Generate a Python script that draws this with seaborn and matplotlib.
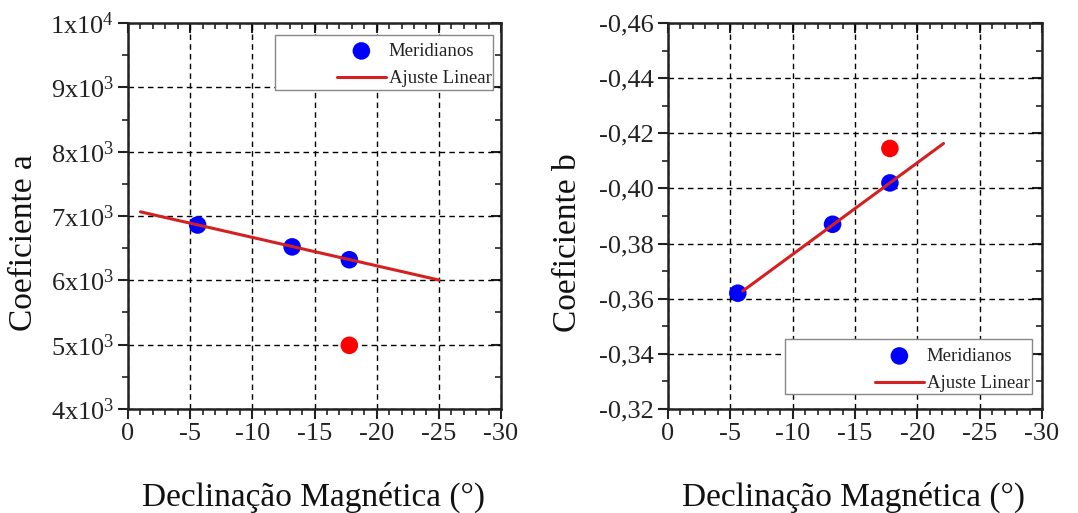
import numpy as np
import pandas as pd
import matplotlib
matplotlib.use("Agg")
import matplotlib.pyplot as plt
from matplotlib.ticker import MultipleLocator, FixedLocator
from matplotlib.patches import Rectangle
import seaborn as sns

# ---- data ----
decl = [-5.6, -13.2, -17.8]            # Declinação magnética (°)
coef_a = [6860, 6520, 6320]            # Coeficiente a (Meridianos)
coef_b = [-0.362, -0.387, -0.402]      # Coeficiente b (Meridianos)
outlier_x = [-17.8]
outlier_a = [4990]
outlier_b = [-0.4145]
fit_a_x = [-1.0, -25.0]
fit_a_y = [7065, 6005]
fit_b_x = [-6.0, -22.1]
fit_b_y = [-0.3628, -0.4163]

x_ticks = [0, -5, -10, -15, -20, -25, -30]
a_ticks = [4000, 5000, 6000, 7000, 8000, 9000, 10000]
a_labels = [r"$\mathregular{4x10^3}$", r"$\mathregular{5x10^3}$", r"$\mathregular{6x10^3}$",
            r"$\mathregular{7x10^3}$", r"$\mathregular{8x10^3}$", r"$\mathregular{9x10^3}$",
            r"$\mathregular{1x10^4}$"]
b_ticks = [-0.32, -0.34, -0.36, -0.38, -0.40, -0.42, -0.44, -0.46]
b_labels = ["-0,32", "-0,34", "-0,36", "-0,38", "-0,40", "-0,42", "-0,44", "-0,46"]

sns.set_theme(style="white")
plt.rcParams["font.family"] = ["Liberation Serif", "DejaVu Serif"]
plt.rcParams["mathtext.fontset"] = "custom"
plt.rcParams["mathtext.rm"] = "Liberation Serif"
plt.rcParams["axes.unicode_minus"] = False

W, H = 1078, 513
fig = plt.figure(figsize=(W / 100, H / 100), dpi=100)
axL = fig.add_axes([128 / W, (H - 409) / H, 373 / W, 386 / H])
axR = fig.add_axes([668 / W, (H - 409) / H, 374 / W, 386 / H])

main_df_a = pd.DataFrame({"x": decl, "y": coef_a})
main_df_b = pd.DataFrame({"x": decl, "y": coef_b})
out_df_a = pd.DataFrame({"x": outlier_x, "y": outlier_a})
out_df_b = pd.DataFrame({"x": outlier_x, "y": outlier_b})
fit_df_a = pd.DataFrame({"x": fit_a_x, "y": fit_a_y})
fit_df_b = pd.DataFrame({"x": fit_b_x, "y": fit_b_y})

line_color = "#d42020"
ink = "#222222"

for ax, mdf, odf, fdf in [(axL, main_df_a, out_df_a, fit_df_a),
                          (axR, main_df_b, out_df_b, fit_df_b)]:
    sns.scatterplot(data=mdf, x="x", y="y", ax=ax, color="#0000ff", s=160,
                    edgecolor="none", label="Meridianos", zorder=3)
    sns.scatterplot(data=odf, x="x", y="y", ax=ax, color="#ff0000", s=160,
                    edgecolor="none", zorder=3, legend=False)
    sns.lineplot(data=fdf, x="x", y="y", ax=ax, color=line_color, lw=2.2,
                 label="Ajuste Linear", zorder=4)
    ax.set_xlim(0, -30)
    ax.xaxis.set_major_locator(FixedLocator(x_ticks))
    ax.xaxis.set_minor_locator(MultipleLocator(1))
    ax.set_xticklabels([str(t) for t in x_ticks])
    ax.grid(True, which="major", color="black", linestyle=(0, (4, 3)), linewidth=1.0)
    for sp in ax.spines.values():
        sp.set_linewidth(1.8)
        sp.set_color(ink)
    ax.tick_params(axis="both", which="major", direction="out", length=7, width=1.5,
                   labelsize=19, colors=ink, pad=3)
    ax.tick_params(axis="both", which="minor", direction="out", length=4, width=1.2,
                   colors=ink)
    ax.tick_params(axis="both", which="both", bottom=True, left=True)
    ax.set_xlabel("Declinação Magnética (°)", fontsize=24, color="#111111", va="center")
    top = ax.secondary_xaxis("top")
    top.xaxis.set_major_locator(FixedLocator(x_ticks))
    top.xaxis.set_minor_locator(MultipleLocator(1))
    top.tick_params(which="major", direction="in", length=7, width=1.5, labeltop=False, colors=ink)
    top.tick_params(which="minor", direction="in", length=4, width=1.2, colors=ink)
    top.spines["top"].set_visible(False)

def px_to_axes(ax, px, py):
    inv = ax.transAxes.inverted()
    return inv.transform(fig.transFigure.transform((px / W, 1 - py / H)))

# left panel y
axL.set_ylim(4000, 10000)
axL.yaxis.set_major_locator(FixedLocator(a_ticks))
axL.set_yticklabels(a_labels)
axL.yaxis.set_minor_locator(MultipleLocator(500))
axL.set_ylabel("Coeficiente a", fontsize=24, color="#111111", va="center")
rL = axL.secondary_yaxis("right")
rL.yaxis.set_major_locator(FixedLocator(a_ticks))
rL.yaxis.set_minor_locator(MultipleLocator(500))
rL.tick_params(which="major", direction="in", length=7, width=1.5, labelright=False, colors=ink)
rL.tick_params(which="minor", direction="in", length=4, width=1.2, colors=ink)
rL.spines["right"].set_visible(False)

# right panel y (inverted)
axR.set_ylim(-0.32, -0.46)
axR.yaxis.set_major_locator(FixedLocator(b_ticks))
axR.set_yticklabels(b_labels)
axR.yaxis.set_minor_locator(MultipleLocator(0.01))
axR.set_ylabel("Coeficiente b", fontsize=24, color="#111111", va="center")
rR = axR.secondary_yaxis("right")
rR.yaxis.set_major_locator(FixedLocator(b_ticks))
rR.yaxis.set_minor_locator(MultipleLocator(0.01))
rR.tick_params(which="major", direction="in", length=7, width=1.5, labelright=False, colors=ink)
rR.tick_params(which="minor", direction="in", length=4, width=1.2, colors=ink)
rR.spines["right"].set_visible(False)

# label positions (centres, in pixels of the reference)
axL.yaxis.set_label_coords(*px_to_axes(axL, 24, 243))
axR.yaxis.set_label_coords(*px_to_axes(axR, 568, 243))
axL.xaxis.set_label_coords(*px_to_axes(axL, 314, 497))
axR.xaxis.set_label_coords(*px_to_axes(axR, 854, 497))

# legends: frame box + frameless legend content
def make_legend(ax, box, handle_left, center_y):
    x0, y0 = px_to_axes(ax, box[0], box[3])
    x1, y1 = px_to_axes(ax, box[2], box[1])
    ax.add_patch(Rectangle((x0, y0), x1 - x0, y1 - y0, transform=ax.transAxes,
                           facecolor="white", edgecolor="#888888", lw=1.0, zorder=9,
                           clip_on=False))
    h, l = ax.get_legend_handles_labels()
    ax_anchor = px_to_axes(ax, handle_left, center_y)
    leg = ax.legend(h, l, loc="center left", bbox_to_anchor=tuple(ax_anchor),
                    fontsize=13.5, frameon=False, handlelength=2.6, handletextpad=0.15,
                    borderpad=0, labelspacing=0.55, borderaxespad=0, markerscale=1.0)
    leg.set_zorder(10)
    for t in leg.get_texts():
        t.set_color("#222222")
    return leg

make_legend(axL, (275, 35, 493, 90), 337, 65)
make_legend(axR, (785, 339, 1032, 394), 875, 370)

fig.savefig("out.png", dpi=100)
